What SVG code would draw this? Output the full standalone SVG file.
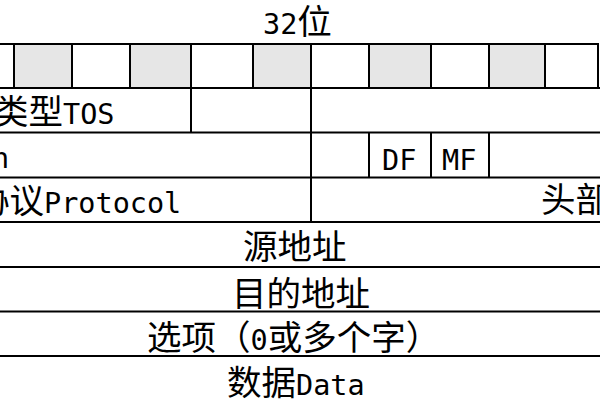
<svg xmlns="http://www.w3.org/2000/svg" width="600" height="400" viewBox="0 0 600 400">
<style>
.ln{stroke:#000;stroke-width:2;fill:none}
.sh{fill:#e6e6e6}
.cj{font-family:"Noto Sans CJK SC","Noto Sans CJK JP",sans-serif;font-size:34.5px;fill:#000}
.lt{font-family:"DejaVu Sans Mono","Liberation Mono",monospace;font-size:28.5px;fill:#000}
</style>
<rect width="600" height="400" fill="#fff"/>
<g id="bit-ruler">
<rect class="sh" x="14" y="44" width="58" height="44"/>
<rect class="sh" x="130" y="44" width="61" height="44"/>
<rect class="sh" x="253" y="44" width="58" height="44"/>
<rect class="sh" x="369" y="44" width="62" height="44"/>
<rect class="sh" x="489" y="44" width="56" height="44"/>
<path class="ln" d="M0 44H598M14 44V88M72 44V88M130 44V88M191 44V88M253 44V88M311 44V88M369 44V88M431 44V88M489 44V88M545 44V88M598 43V88"/>
</g>
<g id="grid">
<path class="ln" d="M0 88H600M0 132.5H600M0 177.5H600M0 222H600M0 267H600M0 311.5H600M0 356H600"/>
<path class="ln" d="M191 88V132.5M311 88V222M369 132.5V177.5M431 132.5V177.5M489 132.5V177.5"/>
</g>
<g id="title"><text class="cj" x="263" y="34"><tspan class="lt">32</tspan>位</text></g>
<g id="tos"><text class="cj" x="-6" y="124">类型<tspan class="lt">TOS</tspan></text></g>
<g id="identification"><text class="lt" x="-8" y="168">n</text></g>
<g id="df"><text class="lt" x="382" y="170">DF</text></g>
<g id="mf"><text class="lt" x="442" y="170">MF</text></g>
<g id="protocol"><text class="cj" x="-25" y="213">协议<tspan class="lt">Protocol</tspan></text></g>
<g id="checksum"><text class="cj" x="541" y="212">头部</text></g>
<g id="src"><text class="cj" x="243" y="259">源地址</text></g>
<g id="dst"><text class="cj" x="232" y="306">目的地址</text></g>
<g id="options"><text class="cj" x="147" y="350">选项（<tspan class="lt">0</tspan>或多个字）</text></g>
<g id="data"><text class="cj" x="227" y="395">数据<tspan class="lt">Data</tspan></text></g>
</svg>
